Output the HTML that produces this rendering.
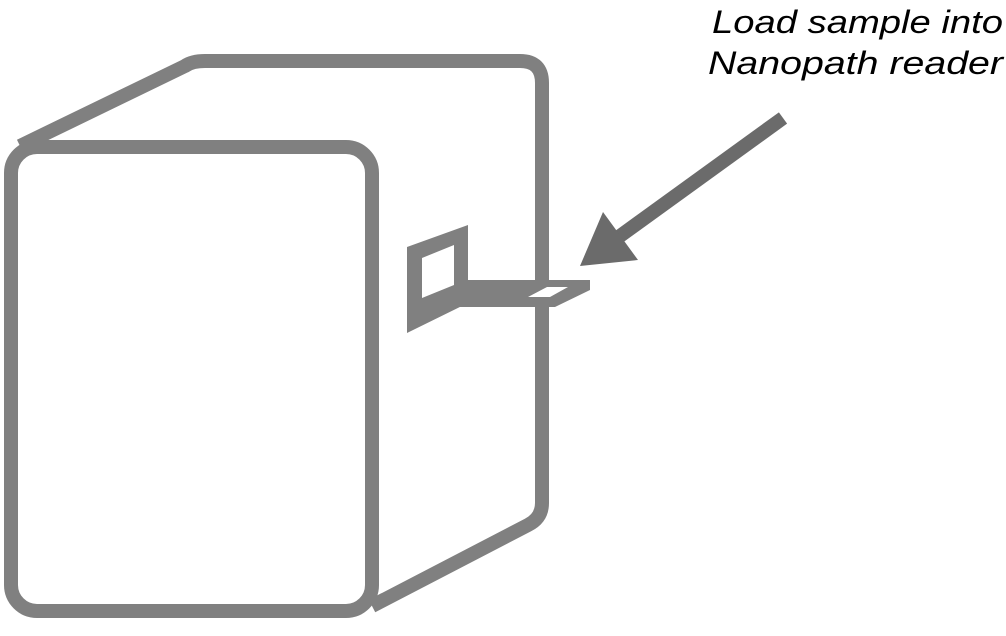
<!DOCTYPE html>
<html><head><style>html,body{margin:0;padding:0;background:#fff}</style></head>
<body>
<svg width="1006" height="631" viewBox="0 0 1006 631" xmlns="http://www.w3.org/2000/svg">
<g fill="none" stroke="#808080" stroke-width="14" stroke-linejoin="round">
<path d="M20,146 L185,66 Q192,61 205,61 L520,61 Q542,61 542,83 L542,503 Q542,518 528,525 L372,606"/>
<rect x="11" y="147" width="361" height="464" rx="26"/>
</g>
<g fill="#808080">
<path fill-rule="evenodd" d="M407,247 L468,225 L468,303 L407,333 Z M422,258 L454,245 L454,285 L422,298 Z"/>
<path d="M468,280 L590,280 L590,290 L555,307 L420,307 L420,300 L468,290 Z"/>
</g>
<path d="M528,297 L547,287 L568,287 L550,297 Z" fill="#fff"/>
<g fill="#6b6b6b" stroke="none">
<line x1="783" y1="118" x2="620" y2="236" stroke="#6b6b6b" stroke-width="14"/>
<path d="M580,266 L603,212 L638,260 Z"/>
</g>
<g font-family="Liberation Sans, sans-serif" font-style="italic" font-size="32" fill="#000">
<text x="712" y="33" textLength="291" lengthAdjust="spacingAndGlyphs">Load sample into</text>
<text x="708" y="74" textLength="295" lengthAdjust="spacingAndGlyphs">Nanopath reader</text>
</g>
</svg>
</body></html>
